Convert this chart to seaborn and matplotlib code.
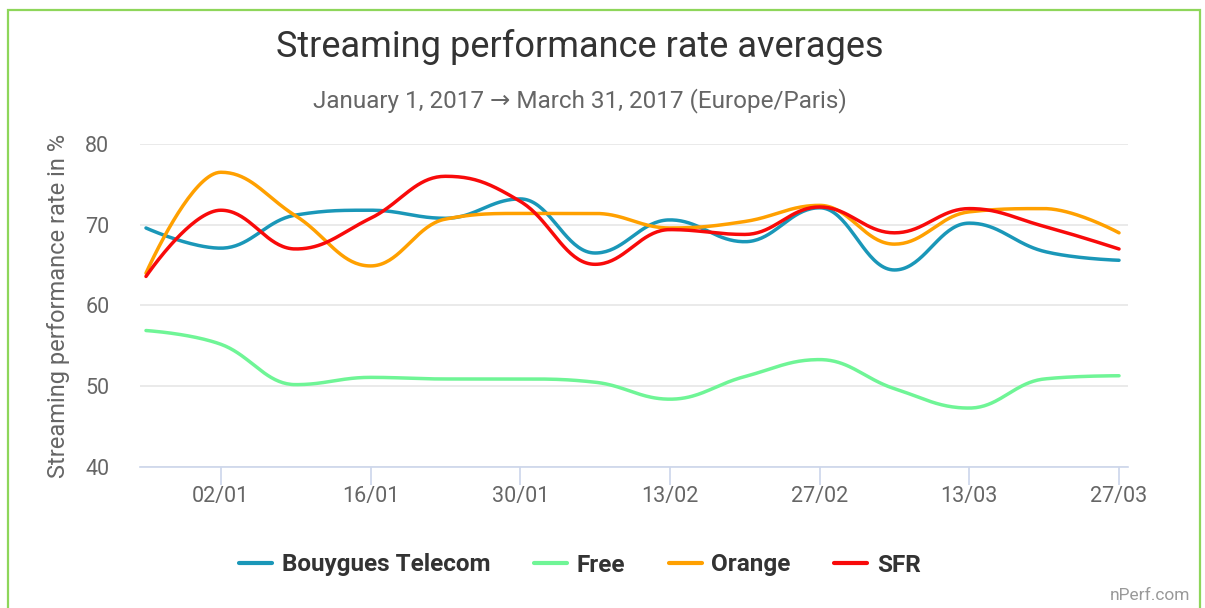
import numpy as np
import pandas as pd
import matplotlib
matplotlib.use("Agg")
import matplotlib.pyplot as plt
import matplotlib.dates as mdates
from matplotlib.lines import Line2D
from matplotlib.patches import Rectangle
import seaborn as sns

# ---------------------------------------------------------------
# Data (weekly averages)
# ---------------------------------------------------------------
weeks = pd.date_range("2016-12-26", "2017-03-27", freq="7D")

operators = ["Bouygues Telecom", "Free", "Orange", "SFR"]

bouygues = [69.6, 67.1, 71.2, 71.8, 70.8, 73.2, 66.5, 70.6, 67.9, 72.1, 64.4, 70.2, 66.7, 65.6]
free = [56.9, 55.2, 50.2, 51.1, 50.9, 50.9, 50.5, 48.4, 51.2, 53.3, 49.7, 47.3, 50.9, 51.3]
orange = [64.0, 76.5, 71.1, 64.9, 70.7, 71.4, 71.4, 69.6, 70.4, 72.4, 67.6, 71.6, 72.0, 69.0]
sfr = [63.6, 71.8, 67.0, 70.8, 76.0, 72.9, 65.1, 69.4, 68.8, 72.2, 69.0, 72.0, 69.8, 67.0]

colors = ["#1a97b8", "#6ff596", "#ffa000", "#f80a0a"]

title = "Streaming performance rate averages"
subtitle = "January 1, 2017 \u2192 March 31, 2017 (Europe/Paris)"
ylabel = "Streaming performance rate in %"
yticks = [40, 50, 60, 70, 80]
xtick_dates = pd.date_range("2017-01-02", "2017-03-27", freq="14D")


# ---------------------------------------------------------------
# Highcharts-like spline (bezier between points) for rendering
# ---------------------------------------------------------------
def spline(xs, ys, n=40):
    xs = np.asarray(xs, float)
    ys = np.asarray(ys, float)
    L = len(xs)
    sm = 1.5
    den = sm + 1
    left = [(xs[i], ys[i]) for i in range(L)]
    right = [(xs[i], ys[i]) for i in range(L)]
    for i in range(1, L - 1):
        lcx = (sm * xs[i] + xs[i - 1]) / den
        lcy = (sm * ys[i] + ys[i - 1]) / den
        rcx = (sm * xs[i] + xs[i + 1]) / den
        rcy = (sm * ys[i] + ys[i + 1]) / den
        corr = (rcy - lcy) * (rcx - xs[i]) / (rcx - lcx) + ys[i] - rcy
        lcy += corr
        rcy += corr
        if lcy > ys[i - 1] and lcy > ys[i]:
            lcy = max(ys[i - 1], ys[i])
            rcy = 2 * ys[i] - lcy
        elif lcy < ys[i - 1] and lcy < ys[i]:
            lcy = min(ys[i - 1], ys[i])
            rcy = 2 * ys[i] - lcy
        if rcy > ys[i + 1] and rcy > ys[i]:
            rcy = max(ys[i + 1], ys[i])
            lcy = 2 * ys[i] - rcy
        elif rcy < ys[i + 1] and rcy < ys[i]:
            rcy = min(ys[i + 1], ys[i])
            lcy = 2 * ys[i] - rcy
        left[i] = (lcx, lcy)
        right[i] = (rcx, rcy)

    t = np.linspace(0, 1, n)[:, None]
    out = []
    for i in range(1, L):
        p0 = np.array([xs[i - 1], ys[i - 1]])
        p1 = np.array(right[i - 1])
        p2 = np.array(left[i])
        p3 = np.array([xs[i], ys[i]])
        seg = ((1 - t) ** 3) * p0 + 3 * ((1 - t) ** 2) * t * p1 + 3 * (1 - t) * t ** 2 * p2 + t ** 3 * p3
        out.append(seg if i == 1 else seg[1:])
    out = np.vstack(out)
    return out[:, 0], out[:, 1]


xnum = mdates.date2num(weeks)
frames = []
for name, vals in zip(operators, [bouygues, free, orange, sfr]):
    sx, sy = spline(xnum, vals)
    frames.append(pd.DataFrame({"x": sx, "y": sy, "operator": name}))
df = pd.concat(frames, ignore_index=True)

# ---------------------------------------------------------------
# Plot
# ---------------------------------------------------------------
sns.set_style("white")
plt.rcParams["font.family"] = ["Roboto", "DejaVu Sans"]

W, H = 1205, 608
fig = plt.figure(figsize=(W / 100, H / 100), dpi=100)
ax = fig.add_axes([140 / W, 1 - 467 / H, (1128 - 140) / W, (467 - 144) / H])

sns.lineplot(data=df, x="x", y="y", hue="operator", hue_order=operators,
             palette=dict(zip(operators, colors)), sort=False, estimator=None,
             linewidth=2.5, legend=False, ax=ax)

ax.set_ylim(40, 80)
ax.set_xlim(xnum[0] - 0.56, xnum[-1] + 0.84)
ax.set_yticks(yticks)
ax.set_xticks(mdates.date2num(xtick_dates))
ax.xaxis.set_major_formatter(mdates.DateFormatter("%d/%m"))
ax.grid(axis="y", color="#e6e6e6", linewidth=1.2)
ax.set_axisbelow(True)
for s in ["top", "right", "left"]:
    ax.spines[s].set_visible(False)
ax.spines["bottom"].set_color("#ccd6eb")
ax.spines["bottom"].set_linewidth(1.2)
ax.tick_params(axis="x", colors="#ccd6eb", length=13, width=1.2, direction="out",
               labelcolor="#666666", labelsize=15.5, pad=1, bottom=True)
ax.tick_params(axis="y", length=0, labelcolor="#666666", labelsize=15.5, pad=22)
ax.set_xlabel("")
ax.set_ylabel(ylabel, fontsize=17, color="#666666", labelpad=11)

fig.text(580 / W, 1 - 47 / H, title, ha="center", va="center", fontsize=26, color="#333333")
fig.text(580 / W, 1 - 101 / H, subtitle, ha="center", va="center", fontsize=17.5, color="#666666")

handles = [Line2D([0], [0], color=c, linewidth=3) for c in colors]
fig.legend(handles, operators, loc="center", bbox_to_anchor=(580 / W, 1 - 565 / H), ncol=4,
           frameon=False, handlelength=1.35, handletextpad=0.4, columnspacing=1.8,
           prop={"weight": "bold", "size": 17.5}, labelcolor="#333333")

fig.text(1190 / W, 1 - 596 / H, "nPerf.com", ha="right", va="center", fontsize=12.5, color="#999999")

# green frame around the chart
fig.add_artist(Rectangle((8 / W, -0.05), (1200 - 8) / W, 1 - 10 / H + 0.05, transform=fig.transFigure,
                         fill=False, edgecolor="#8ed65a", linewidth=1.6))

fig.savefig("out.png", dpi=100)
